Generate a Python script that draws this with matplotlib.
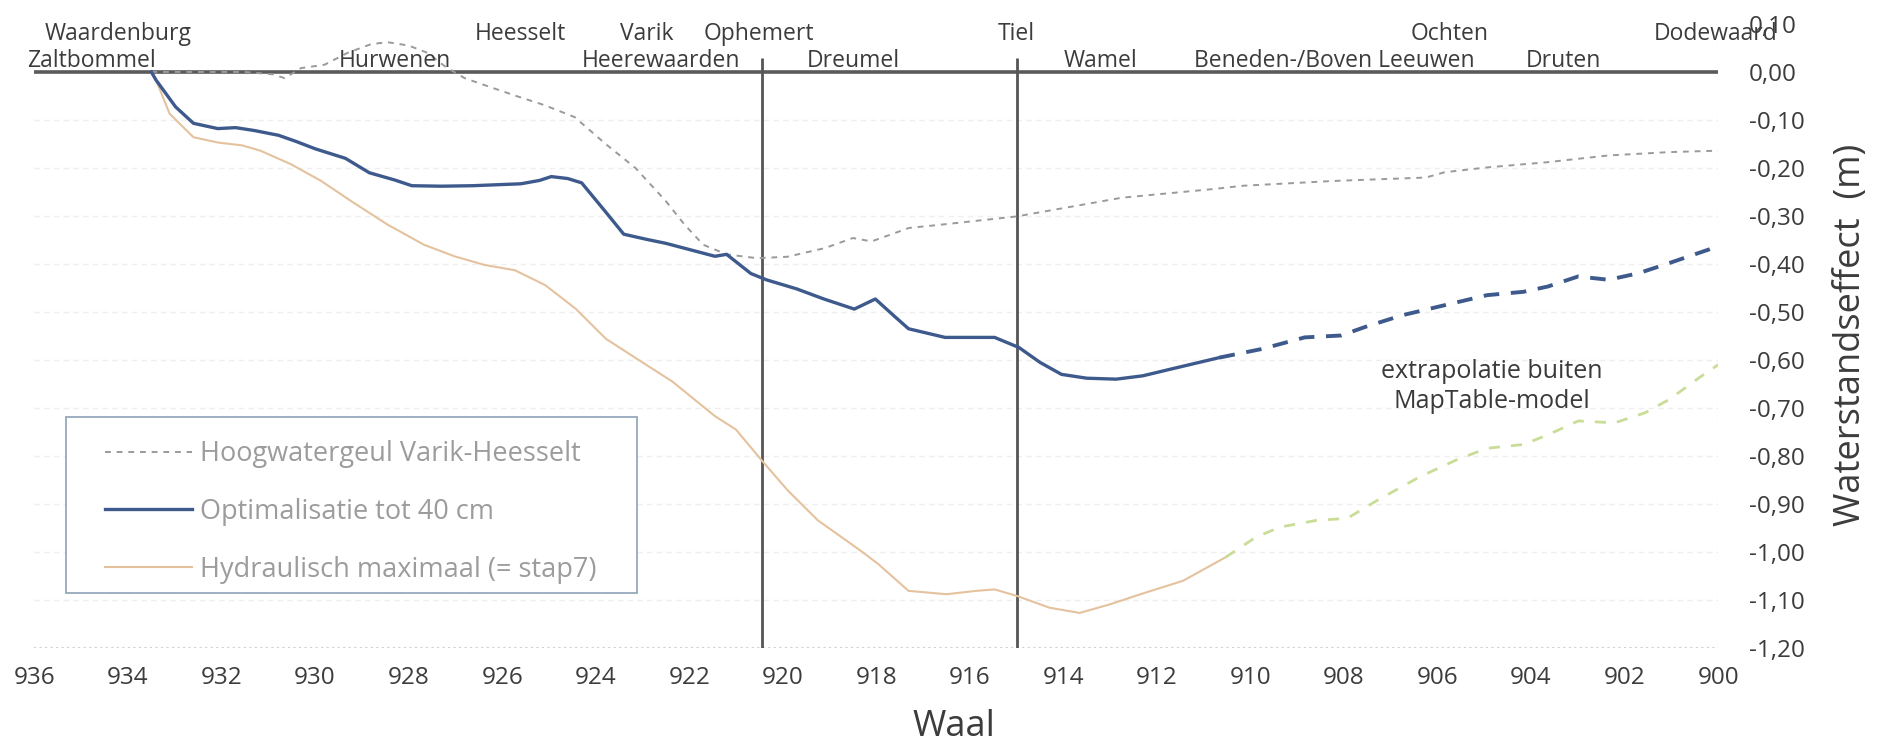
import matplotlib
matplotlib.use('Agg')
import matplotlib.pyplot as plt
from matplotlib.patches import Rectangle
from matplotlib.ticker import FuncFormatter

plt.rcParams['font.family'] = ['Open Sans', 'DejaVu Sans']

# Hoogwatergeul Varik-Heesselt
geul_km = [933.5, 932.5, 931.5, 930.9, 930.65, 930.3, 929.8, 929.3, 928.8, 928.45,
           928.0, 927.6, 927.2, 926.8, 926.3, 925.7, 925.1, 924.45, 923.8, 923.15,
           922.5, 922.1, 921.7, 921.2, 920.55, 919.9, 919.1, 918.5, 918.1, 917.3,
           916.6, 915.0, 912.75, 910.8, 910.15, 908.2, 906.25, 905.85, 904.95,
           903.65, 902.35, 901.05, 900.0]
geul_val = [0.0, 0.0, 0.0, -0.005, -0.013, 0.008, 0.015, 0.04, 0.058, 0.062,
            0.055, 0.04, 0.01, -0.013, -0.03, -0.05, -0.069, -0.094, -0.149, -0.2,
            -0.269, -0.318, -0.36, -0.38, -0.388, -0.385, -0.367, -0.346, -0.353, -0.325,
            -0.318, -0.301, -0.262, -0.244, -0.237, -0.227, -0.22, -0.209, -0.199,
            -0.188, -0.174, -0.167, -0.164]

# Optimalisatie tot 40 cm (model part + extrapolation)
opt_km = [933.5, 933.4, 932.98, 932.6, 932.08, 931.7, 931.3, 930.78, 930.4, 930.0,
          929.35, 928.84, 928.3, 927.93, 927.3, 926.63, 925.6, 925.2, 924.95, 924.6,
          924.3, 923.8, 923.4, 922.9, 922.5, 921.45, 921.2, 920.68, 920.35, 919.7,
          919.12, 918.47, 918.02, 917.6, 917.31, 916.53, 915.47, 914.95, 914.5,
          914.04, 913.5, 912.87, 912.3, 911.7, 910.66]
opt_val = [0.0, -0.017, -0.073, -0.107, -0.118, -0.116, -0.122, -0.132, -0.145, -0.16,
           -0.18, -0.21, -0.225, -0.237, -0.238, -0.237, -0.233, -0.226, -0.218, -0.222,
           -0.231, -0.29, -0.338, -0.349, -0.357, -0.384, -0.38, -0.42, -0.433, -0.452,
           -0.473, -0.494, -0.473, -0.51, -0.535, -0.553, -0.553, -0.574, -0.605,
           -0.63, -0.638, -0.64, -0.633, -0.619, -0.595]
opt_ext_km = [910.66, 909.75, 908.84, 908.06, 907.54, 906.76, 905.85, 904.94, 904.16,
              903.64, 902.99, 902.34, 901.69, 901.04, 900.2, 900.0]
opt_ext_val = [-0.595, -0.577, -0.553, -0.549, -0.531, -0.507, -0.486, -0.465, -0.458,
               -0.447, -0.426, -0.433, -0.419, -0.398, -0.37, -0.362]

# Hydraulisch maximaal (= stap7)
max_km = [933.5, 933.4, 933.11, 932.6, 932.08, 931.56, 931.17, 930.52, 929.87, 929.23,
          928.45, 927.67, 927.02, 926.38, 925.73, 925.08, 924.43, 923.78, 923.0, 922.36,
          921.45, 921.0, 920.46, 919.9, 919.25, 918.34, 917.96, 917.31, 916.5, 915.86,
          915.47, 914.98, 914.3, 913.65, 913.0, 912.35, 911.44, 910.53]
max_val = [0.0, -0.017, -0.087, -0.136, -0.147, -0.153, -0.164, -0.192, -0.227, -0.269,
           -0.318, -0.36, -0.384, -0.402, -0.413, -0.444, -0.493, -0.556, -0.605, -0.645,
           -0.717, -0.745, -0.808, -0.871, -0.934, -0.997, -1.025, -1.081, -1.088, -1.081,
           -1.078, -1.092, -1.116, -1.127, -1.109, -1.088, -1.06, -1.011]
max_ext_km = [910.53, 909.88, 909.36, 908.58, 907.93, 907.28, 906.37, 905.59, 904.94,
              904.16, 903.64, 902.99, 902.21, 901.56, 901.04, 900.39, 900.0]
max_ext_val = [-1.011, -0.969, -0.948, -0.934, -0.93, -0.892, -0.843, -0.808, -0.784,
               -0.776, -0.756, -0.727, -0.731, -0.71, -0.682, -0.636, -0.61]

# section boundaries
boundary_km = [920.45, 915.0]

# place names along the river (row 1 = upper line)
places_row1 = ['Waardenburg', 'Heesselt', 'Varik', 'Ophemert', 'Tiel', 'Ochten', 'Dodewaard']
places_row1_km = [934.2, 925.6, 922.9, 920.5, 915.0, 905.75, 900.06]
places_row2 = ['Zaltbommel', 'Hurwenen', 'Heerewaarden', 'Dreumel', 'Wamel',
               'Beneden-/Boven Leeuwen', 'Druten']
places_row2_km = [934.77, 928.3, 922.6, 918.5, 913.2, 908.2, 903.3]

x_ticks = list(range(936, 899, -2))
y_ticks = [0.1, 0.0, -0.1, -0.2, -0.3, -0.4, -0.5, -0.6, -0.7, -0.8, -0.9, -1.0, -1.1, -1.2]

blue = '#3e5a8c'
tan = '#e4c29e'
green = '#c9dd98'
grey = '#9a9a9a'
text_col = '#3c3c3c'

fig = plt.figure(figsize=(18.93, 7.46), dpi=100)
ax = fig.add_axes([0.0182, 0.1314, 0.8894, 0.8365])

# faint grid, thick zero axis, light bottom line
for v in y_ticks[2:-1]:
    ax.axhline(v, color='#efefef', lw=1, ls=(0, (4, 3)), zorder=0)
ax.axhline(-1.2, color='#cfcfcf', lw=1.5, ls=':', zorder=1)
ax.axvline(900, color='#e6e6e6', lw=1, ls=':', zorder=0)
ax.axhline(0, color='#5a5a5a', lw=2.6, zorder=2)
ax.vlines(boundary_km, -1.2, 0.03, color='#555555', lw=2, zorder=2)

ax.plot(geul_km, geul_val, color=grey, lw=1.4, dashes=(3, 3),
        label='Hoogwatergeul Varik-Heesselt', zorder=3)
ax.plot(opt_km, opt_val, color=blue, lw=2.4, label='Optimalisatie tot 40 cm', zorder=4)
ax.plot(opt_ext_km, opt_ext_val, color=blue, lw=2.8, dashes=(4, 3), zorder=4)
ax.plot(max_km, max_val, color=tan, lw=1.5, label='Hydraulisch maximaal (= stap7)', zorder=3)
ax.plot(max_ext_km, max_ext_val, color=green, lw=2, dashes=(4, 4), zorder=3)

for name, km in zip(places_row1, places_row1_km):
    ax.text(km, 0.067, name, ha='center', va='baseline', fontsize=16.5, color=text_col)
for name, km in zip(places_row2, places_row2_km):
    ax.text(km, 0.011, name, ha='center', va='baseline', fontsize=16.5, color=text_col)

ax.text(904.83, -0.655, 'extrapolatie buiten\nMapTable-model', ha='center', va='center',
        fontsize=18, color='#3a3a3a', linespacing=1.3)

ax.set_xlim(936, 900)
ax.set_ylim(-1.2, 0.1)
ax.set_xticks(x_ticks)
ax.set_yticks(y_ticks)
ax.yaxis.tick_right()
ax.yaxis.set_major_formatter(FuncFormatter(lambda v, p: '{:.2f}'.format(v).replace('.', ',').replace('-0,00', '0,00')))
ax.tick_params(axis='both', length=0, labelsize=17.5, colors=text_col)
ax.tick_params(axis='y', pad=22)
ax.tick_params(axis='x', pad=13)
for s in ax.spines.values():
    s.set_visible(False)

fig.text(0.504, 0.026, 'Waal', ha='center', va='center', fontsize=26, color=text_col)
fig.text(0.978, 0.551, 'Waterstandseffect  (m)', ha='center', va='center', rotation=90,
         fontsize=26, color=text_col)

# legend box drawn separately so its size follows the reference
ax.add_patch(Rectangle((0.0187, 0.088), 0.339, 0.282, transform=ax.transAxes,
                       facecolor='white', edgecolor='#95a9bd', lw=1.3, zorder=5))
leg = ax.legend(loc='center left', bbox_to_anchor=(0.0419, 0.218), fontsize=19.5,
                handlelength=3.2, handletextpad=0.3, labelspacing=1.1, borderpad=0,
                borderaxespad=0, frameon=False)
leg.set_zorder(6)
for t in leg.get_texts():
    t.set_color('#9c9c9c')

fig.savefig('out.png', dpi=100, facecolor='white')
